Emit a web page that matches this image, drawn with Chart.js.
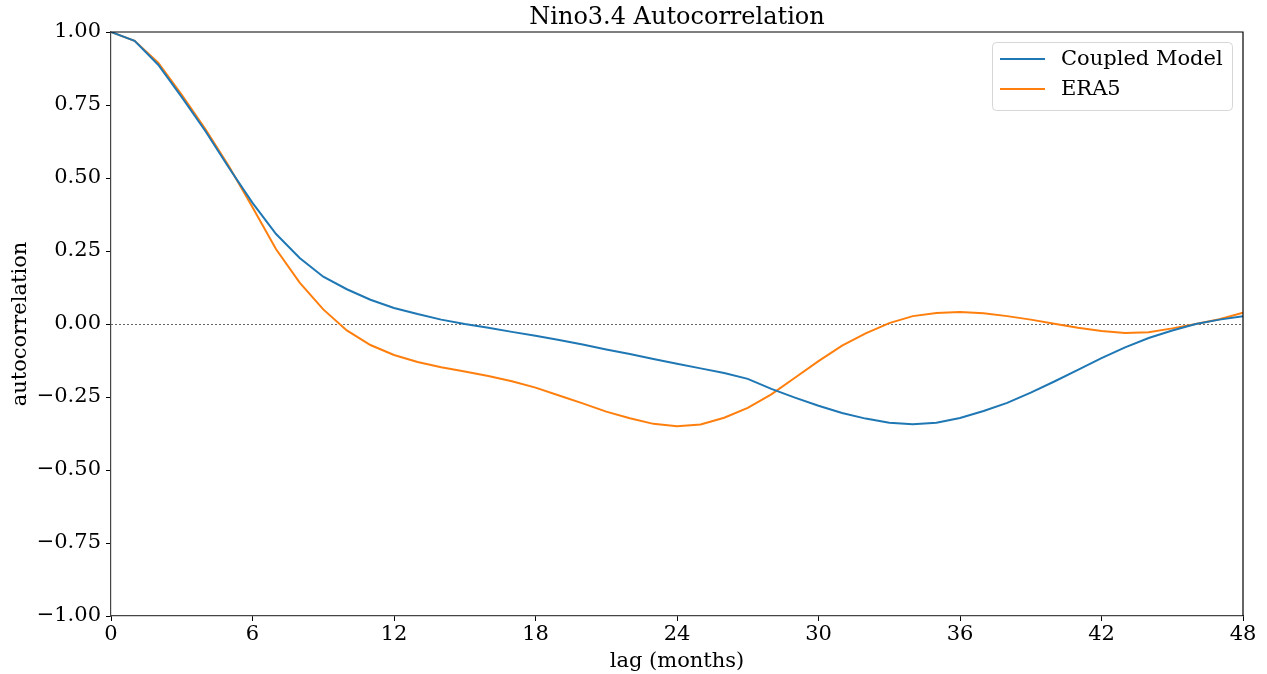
<!DOCTYPE html>
<html lang="en">
<head>
    <meta charset="UTF-8">
    <title>Nino3.4 Autocorrelation</title>
    <script src="https://cdn.jsdelivr.net/npm/chart.js"></script>
    <style>
        html, body { margin: 0; padding: 0; background: #fff; }
        #wrap { width: 1267px; height: 674px; position: relative; }
    </style>
</head>
<body>
    <div id="wrap"><canvas id="acfChart"></canvas></div>
    <script>
        // lag in months
        const lags = [];
        for (let k = 0; k <= 48; k++) lags.push(k);

        const coupledModel = [
            1.00, 0.97, 0.888, 0.777, 0.661, 0.535, 0.415, 0.308, 0.226, 0.162,
            0.119, 0.083, 0.055, 0.034, 0.015, 0.000, -0.013, -0.027, -0.040, -0.055,
            -0.070, -0.087, -0.103, -0.120, -0.136, -0.152, -0.168, -0.188, -0.222, -0.252,
            -0.280, -0.305, -0.324, -0.338, -0.343, -0.338, -0.322, -0.298, -0.270, -0.235,
            -0.197, -0.157, -0.117, -0.080, -0.048, -0.022, 0.000, 0.015, 0.027
        ];

        const era5 = [
            1.00, 0.97, 0.895, 0.785, 0.668, 0.540, 0.400, 0.256, 0.142, 0.050,
            -0.022, -0.072, -0.106, -0.130, -0.148, -0.163, -0.178, -0.196, -0.218, -0.245,
            -0.272, -0.300, -0.323, -0.342, -0.350, -0.344, -0.321, -0.287, -0.241, -0.184,
            -0.127, -0.074, -0.032, 0.003, 0.027, 0.038, 0.041, 0.037, 0.027, 0.015,
            0.001, -0.013, -0.024, -0.031, -0.028, -0.015, 0.000, 0.016, 0.039
        ];

        const yTicks = [-1, -0.75, -0.5, -0.25, 0, 0.25, 0.5, 0.75, 1];
        const xTicks = [0, 6, 12, 18, 24, 30, 36, 42, 48];

        const chartTitle = 'Nino3.4 Autocorrelation';
        const FONT = "'DejaVu Serif', serif";

        const toPoints = vals => vals.map((v, i) => ({ x: lags[i], y: v }));

        // title over the axes, zero line, top/right spines and the boxed legend
        const extras = {
            id: 'extras',
            beforeDatasetsDraw(chart) {
                const { ctx, chartArea: a, scales } = chart;
                const y0 = scales.y.getPixelForValue(0);
                ctx.save();
                ctx.strokeStyle = '#666';
                ctx.lineWidth = 1;
                ctx.setLineDash([2, 2]);
                ctx.beginPath();
                ctx.moveTo(a.left, Math.round(y0) + 0.5);
                ctx.lineTo(a.right, Math.round(y0) + 0.5);
                ctx.stroke();
                ctx.restore();
            },
            afterDatasetsDraw(chart) {
                const { ctx, chartArea: a } = chart;
                ctx.save();
                ctx.fillStyle = '#000';
                ctx.font = '24px ' + FONT;
                ctx.textAlign = 'center';
                ctx.textBaseline = 'alphabetic';
                ctx.fillText(chartTitle, (a.left + a.right) / 2, a.top - 8);

                ctx.strokeStyle = '#000';
                ctx.lineWidth = 1.2;
                ctx.beginPath();
                ctx.moveTo(a.left, a.top);
                ctx.lineTo(a.right, a.top);
                ctx.lineTo(a.right, a.bottom);
                ctx.stroke();

                // legend box
                const bx = a.right - 251, by = a.top + 10, bw = 240, bh = 68;
                ctx.fillStyle = 'rgba(255,255,255,0.8)';
                ctx.strokeStyle = '#d6d6d6';
                ctx.lineWidth = 1;
                ctx.beginPath();
                ctx.roundRect(bx + 0.5, by + 0.5, bw, bh, 4);
                ctx.fill();
                ctx.stroke();

                ctx.font = '21px ' + FONT;
                ctx.textAlign = 'left';
                ctx.textBaseline = 'middle';
                chart.data.datasets.forEach((ds, i) => {
                    const ly = by + 17 + i * 30;
                    ctx.strokeStyle = ds.borderColor;
                    ctx.lineWidth = 2;
                    ctx.beginPath();
                    ctx.moveTo(bx + 8, ly);
                    ctx.lineTo(bx + 53, ly);
                    ctx.stroke();
                    ctx.fillStyle = '#000';
                    ctx.fillText(ds.label, bx + 69, ly + 1);
                });
                ctx.restore();
            }
        };

        new Chart(document.getElementById('acfChart'), {
            type: 'line',
            data: {
                datasets: [
                    { label: 'Coupled Model', data: toPoints(coupledModel), borderColor: '#1f77b4', borderWidth: 2 },
                    { label: 'ERA5', data: toPoints(era5), borderColor: '#ff7f0e', borderWidth: 2 }
                ]
            },
            options: {
                responsive: true,
                maintainAspectRatio: false,
                animation: false,
                events: [],
                elements: { point: { radius: 0 }, line: { tension: 0 } },
                layout: { padding: { left: 0, right: 24, top: 32, bottom: 0 } },
                plugins: {
                    legend: { display: false },
                    tooltip: { enabled: false },
                    title: { display: false }
                },
                scales: {
                    x: {
                        type: 'linear',
                        min: 0,
                        max: 48,
                        afterBuildTicks: s => { s.ticks = xTicks.map(v => ({ value: v })); },
                        afterFit: s => { s.height = 58; },
                        ticks: { color: '#000', font: { family: FONT, size: 21 }, padding: 1, maxRotation: 0 },
                        grid: { drawOnChartArea: false, drawTicks: true, tickLength: 5, color: '#000' },
                        border: { color: '#444', width: 1.2 },
                        title: {
                            display: true,
                            text: 'lag (months)',
                            color: '#000',
                            font: { family: FONT, size: 21 },
                            padding: { top: 0, bottom: 0 }
                        }
                    },
                    y: {
                        min: -1,
                        max: 1,
                        afterBuildTicks: s => { s.ticks = yTicks.map(v => ({ value: v })); },
                        afterFit: s => { s.width = 111; },
                        ticks: {
                            color: '#000',
                            font: { family: FONT, size: 21 },
                            padding: 5,
                            callback: v => (v < 0 ? '\u2212' : '') + Math.abs(v).toFixed(2)
                        },
                        grid: { drawOnChartArea: false, drawTicks: true, tickLength: 5, color: '#000' },
                        border: { color: '#444', width: 1.2 },
                        title: {
                            display: true,
                            text: 'autocorrelation',
                            color: '#000',
                            font: { family: FONT, size: 21 },
                            padding: { top: 8, bottom: 0 }
                        }
                    }
                }
            },
            plugins: [extras]
        });
    </script>
</body>
</html>
